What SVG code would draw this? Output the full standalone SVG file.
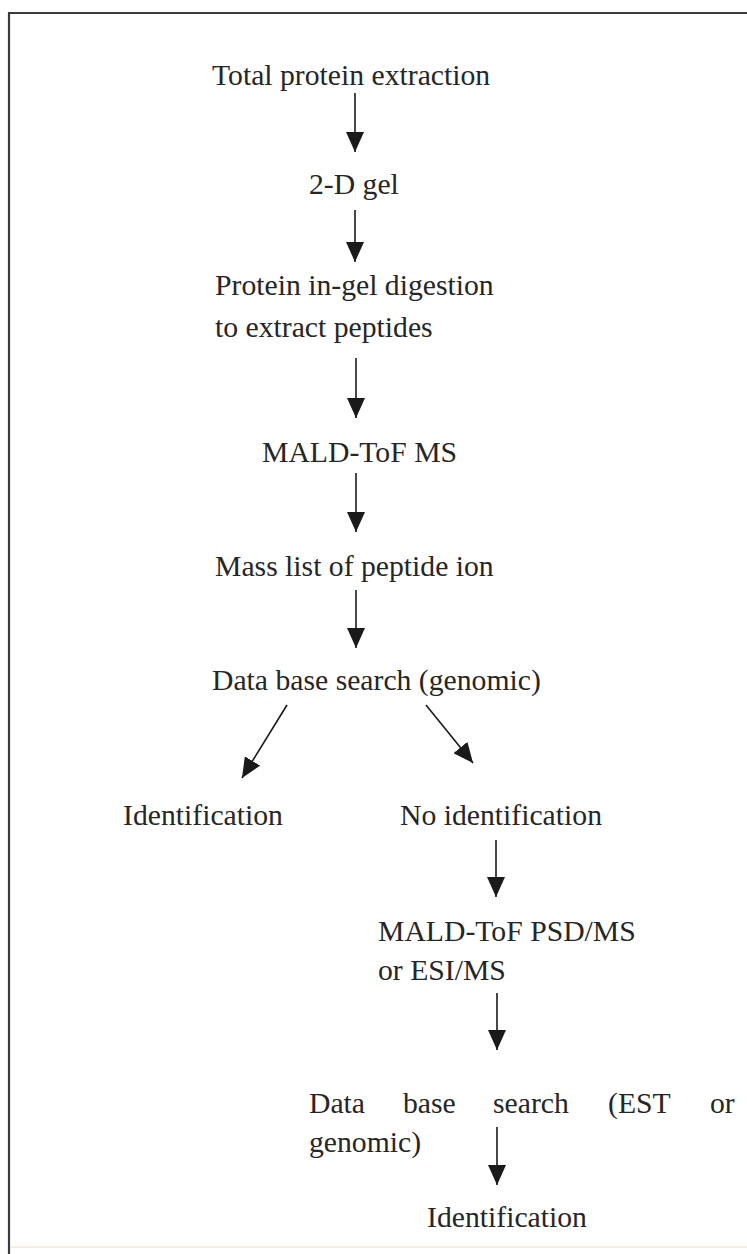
<svg xmlns="http://www.w3.org/2000/svg" width="747" height="1254" viewBox="0 0 747 1254">
  <style>
    .t { font-family: "Liberation Serif", "Times New Roman", serif; font-size: 29.7px; fill: #262626; }
    .c { stroke: #1a1a1a; stroke-width: 1.6; fill: none; marker-end: url(#ah); }
  </style>
  <defs>
    <marker id="ah" viewBox="0 0 20 18" refX="20" refY="9" markerWidth="20" markerHeight="18" markerUnits="userSpaceOnUse" orient="auto">
      <path d="M0,0 L20,9 L0,18 z" fill="#1a1a1a"/>
    </marker>
  </defs>
  <rect x="0" y="0" width="747" height="1254" fill="#ffffff"/>
  <g id="frame" stroke="#3a3a44" stroke-width="2.2" fill="none">
    <line x1="8" y1="13" x2="747" y2="13"/>
    <line x1="9" y1="13" x2="9" y2="1254"/>
    <line x1="10" y1="1247" x2="747" y2="1247" stroke="#f3efdc" stroke-width="2"/>
  </g>

  <g id="n1"><text class="t" x="212" y="85">Total protein extraction</text></g>
  <g id="n2"><text class="t" x="309" y="194">2-D gel</text></g>
  <g id="n3">
    <text class="t" x="215" y="295">Protein in-gel digestion</text>
    <text class="t" x="215" y="337">to extract peptides</text>
  </g>
  <g id="n4"><text class="t" x="262" y="462">MALD-ToF MS</text></g>
  <g id="n5"><text class="t" x="215" y="576">Mass list of peptide ion</text></g>
  <g id="n6"><text class="t" x="212" y="690">Data base search (genomic)</text></g>
  <g id="n7"><text class="t" x="123" y="825">Identification</text></g>
  <g id="n8"><text class="t" x="400" y="825">No identification</text></g>
  <g id="n9">
    <text class="t" x="378" y="941">MALD-ToF PSD/MS</text>
    <text class="t" x="378" y="980">or ESI/MS</text>
  </g>
  <g id="n10">
    <text class="t" y="1113"><tspan x="309">Data</tspan><tspan x="403">base</tspan><tspan x="493">search</tspan><tspan x="608">(EST</tspan><tspan x="710">or</tspan></text>
    <text class="t" x="309" y="1152">genomic)</text>
  </g>
  <g id="n11"><text class="t" x="427" y="1227">Identification</text></g>

  <g id="connectors">
    <line class="c" x1="355" y1="93" x2="355" y2="152"/>
    <line class="c" x1="355" y1="210" x2="355" y2="262"/>
    <line class="c" x1="356" y1="358" x2="356" y2="418"/>
    <line class="c" x1="356" y1="473" x2="356" y2="532"/>
    <line class="c" x1="356" y1="590" x2="356" y2="648"/>
    <line class="c" x1="287" y1="705" x2="242" y2="778"/>
    <line class="c" x1="426" y1="705" x2="473" y2="763"/>
    <line class="c" x1="496" y1="840" x2="496" y2="897"/>
    <line class="c" x1="497" y1="993" x2="497" y2="1050"/>
    <line class="c" x1="497" y1="1127" x2="497" y2="1185"/>
  </g>
</svg>
